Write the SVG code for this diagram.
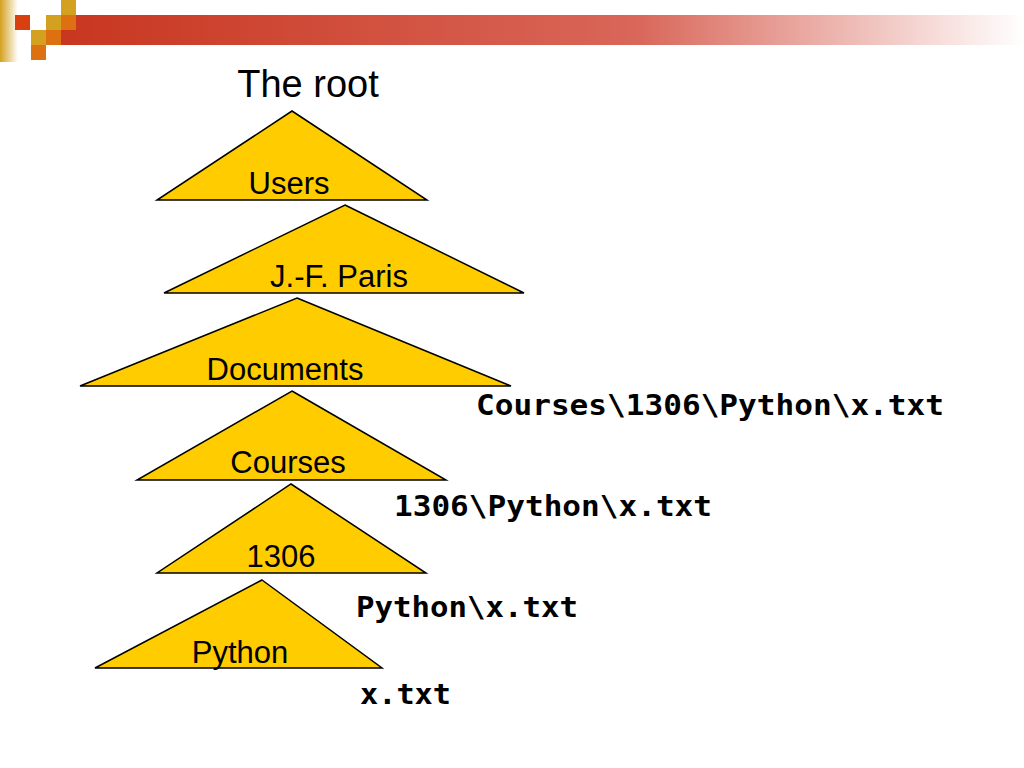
<svg xmlns="http://www.w3.org/2000/svg" width="1024" height="768" viewBox="0 0 1024 768">
<defs>
<linearGradient id="bar" x1="0" x2="1"><stop offset="0" stop-color="#c8361f"/><stop offset="0.6" stop-color="#d9675a"/><stop offset="1" stop-color="#ffffff"/></linearGradient>
<linearGradient id="strip" x1="0" x2="1"><stop offset="0" stop-color="#d4a020"/><stop offset="1" stop-color="#ffffff"/></linearGradient>
<style>
.tri{fill:#ffcc00;stroke:#000;stroke-width:1.5}
.lbl{font-family:"Liberation Sans",Arial,sans-serif;font-size:31px;text-anchor:middle;fill:#000}
.path{font-family:"DejaVu Sans Mono","Liberation Mono",monospace;font-weight:bold;font-size:28px;fill:#000}
</style>
</defs>
<rect width="1024" height="768" fill="#fff"/>
<g id="logo">
<rect x="0" y="0" width="18" height="62" fill="url(#strip)"/>
<rect x="61" y="15" width="963" height="30" fill="url(#bar)"/>
<rect x="15" y="15" width="15" height="15" fill="#d84010"/>
<rect x="61" y="0" width="15" height="15" fill="#d4a020"/>
<rect x="46" y="15" width="15" height="15" fill="#d4a020"/>
<rect x="61" y="15" width="15" height="15" fill="#dd7010"/>
<rect x="31" y="30" width="15" height="15" fill="#d4a020"/>
<rect x="46" y="30" width="15" height="15" fill="#dd7010"/>
<rect x="31" y="45" width="15" height="15" fill="#dd7010"/>
</g>
<text x="308" y="97" font-family="Liberation Sans,Arial,sans-serif" font-size="38" text-anchor="middle">The root</text>
<g id="users"><polygon class="tri" points="292,111 427,200 157,200"/><text class="lbl" x="289" y="194">Users</text></g>
<g id="paris"><polygon class="tri" points="345,205 524,293 164,293"/><text class="lbl" x="339" y="287">J.-F. Paris</text></g>
<g id="documents"><polygon class="tri" points="297,298 511,386 80,386"/><text class="lbl" x="285" y="380">Documents</text></g>
<g id="courses"><polygon class="tri" points="292,391 446,480 137,480"/><text class="lbl" x="288" y="473">Courses</text></g>
<g id="n1306"><polygon class="tri" points="291,484 426,573 157,573"/><text class="lbl" x="281" y="567">1306</text></g>
<g id="python"><polygon class="tri" points="262,580 382,668 95,668"/><text class="lbl" x="240" y="663">Python</text></g>
<g id="paths">
<text class="path" x="476" y="415" textLength="468" lengthAdjust="spacingAndGlyphs">Courses\1306\Python\x.txt</text>
<text class="path" x="394" y="516" textLength="318" lengthAdjust="spacingAndGlyphs">1306\Python\x.txt</text>
<text class="path" x="356" y="617" textLength="222" lengthAdjust="spacingAndGlyphs">Python\x.txt</text>
<text class="path" x="360" y="704" textLength="91" lengthAdjust="spacingAndGlyphs">x.txt</text>
</g>
<g id="connectors"/>
</svg>
